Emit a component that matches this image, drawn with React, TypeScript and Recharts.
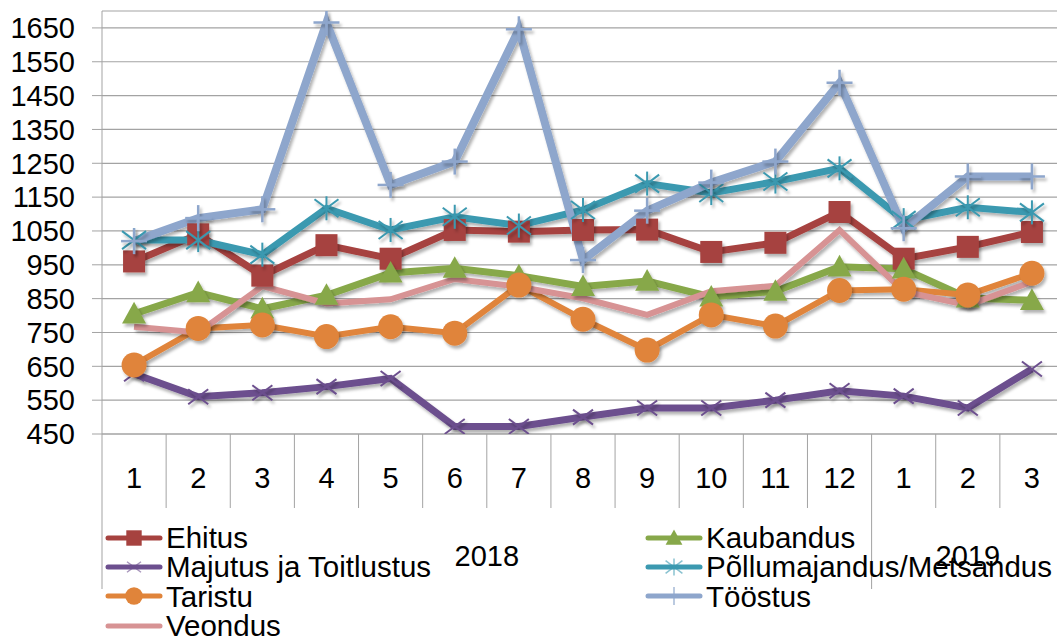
import React from "react";
import {
  LineChart,
  Line,
  XAxis,
  YAxis,
  CartesianGrid,
  Legend,
} from "recharts";

const FONT = '"Liberation Sans", Arial, sans-serif';
const GRID = "#A3A3A3";
const TICK_FS = 29;
const LEGEND_FS = 29.5;

const months = ["1", "2", "3", "4", "5", "6", "7", "8", "9", "10", "11", "12", "1", "2", "3"];
const years = [
  "2018", "2018", "2018", "2018", "2018", "2018", "2018", "2018", "2018", "2018", "2018", "2018",
  "2019", "2019", "2019",
];

const ehitus = [960, 1040, 918, 1008, 968, 1053, 1048, 1053, 1054, 988, 1015, 1106, 968, 1003, 1047];
const kaubandus = [805, 868, 820, 860, 926, 940, 918, 886, 902, 855, 872, 944, 938, 852, 845];
const majutus = [628, 560, 572, 590, 614, 472, 472, 500, 527, 527, 550, 578, 562, 527, 642];
const pollumajandus = [1023, 1023, 980, 1117, 1053, 1092, 1066, 1112, 1190, 1162, 1196, 1235, 1082, 1120, 1105];
const taristu = [654, 762, 772, 738, 767, 748, 890, 789, 698, 802, 769, 874, 878, 861, 925];
const toostus = [1020, 1088, 1114, 1666, 1186, 1255, 1646, 964, 1110, 1193, 1255, 1488, 1058, 1211, 1211];
const veondus = [767, 750, 887, 836, 848, 908, 885, 851, 802, 872, 888, 1053, 871, 831, 900];

const yTicks = [450, 550, 650, 750, 850, 950, 1050, 1150, 1250, 1350, 1450, 1550, 1650];

type Shape = "square" | "triangle" | "x" | "star" | "circle" | "plus" | "none";

// legend order (row by row, two columns) = draw order
const SERIES: { key: string; name: string; values: number[]; color: string; shape: Shape; width: number; size: number }[] = [
  { key: "ehitus", name: "Ehitus", values: ehitus, color: "#A6423F", shape: "square", width: 7, size: 22 },
  { key: "kaubandus", name: "Kaubandus", values: kaubandus, color: "#87A84A", shape: "triangle", width: 7, size: 24 },
  { key: "majutus", name: "Majutus ja Toitlustus", values: majutus, color: "#6C4F8E", shape: "x", width: 7, size: 20 },
  { key: "pollu", name: "Põllumajandus/Metsandus", values: pollumajandus, color: "#3B99B0", shape: "star", width: 7, size: 24 },
  { key: "taristu", name: "Taristu", values: taristu, color: "#E0843A", shape: "circle", width: 6, size: 25 },
  { key: "toostus", name: "Tööstus", values: toostus, color: "#8EA6CC", shape: "plus", width: 8, size: 26 },
  { key: "veondus", name: "Veondus", values: veondus, color: "#D79394", shape: "none", width: 6, size: 0 },
];

const data = months.map((m, i) => {
  const row: Record<string, string | number> = { key: `${years[i]}-${m}` };
  SERIES.forEach((s) => {
    row[s.key] = s.values[i];
  });
  return row;
});

const CHART_W = 1064;
const CHART_H = 637;
const Y_AXIS_W = 102;
const MARGIN = { top: 11, right: 0, bottom: 0, left: 0 };
const BAND = (CHART_W - Y_AXIS_W - MARGIN.left - MARGIN.right) / months.length;

function Marker({ shape, cx, cy, color, s, sw = 2 }: { shape: Shape; cx: number; cy: number; color: string; s: number; sw?: number }) {
  const h = s / 2;
  switch (shape) {
    case "square":
      return <rect x={cx - h} y={cy - h} width={s} height={s} fill={color} />;
    case "triangle":
      return <path d={`M${cx},${cy - h} L${cx + h},${cy + h * 0.8} L${cx - h},${cy + h * 0.8} Z`} fill={color} />;
    case "circle":
      return <circle cx={cx} cy={cy} r={h} fill={color} />;
    case "x":
      return (
        <g stroke={color} strokeWidth={sw}>
          <line x1={cx - h} y1={cy - h * 0.75} x2={cx + h} y2={cy + h * 0.75} />
          <line x1={cx - h} y1={cy + h * 0.75} x2={cx + h} y2={cy - h * 0.75} />
        </g>
      );
    case "star":
      return (
        <g stroke={color} strokeWidth={sw}>
          <line x1={cx - h} y1={cy - h * 0.75} x2={cx + h} y2={cy + h * 0.75} />
          <line x1={cx - h} y1={cy + h * 0.75} x2={cx + h} y2={cy - h * 0.75} />
          <line x1={cx} y1={cy - h} x2={cx} y2={cy + h} />
        </g>
      );
    case "plus":
      return (
        <g stroke={color} strokeWidth={sw + 0.5}>
          <line x1={cx - h} y1={cy} x2={cx + h} y2={cy} />
          <line x1={cx} y1={cy - h} x2={cx} y2={cy + h} />
        </g>
      );
    default:
      return null;
  }
}

const MonthTick = (props: any) => {
  const { x, y, index } = props;
  const i = index;
  const startsYear = i === 0 || years[i] !== years[i - 1];
  const left = x - BAND / 2;
  let yearLabel = null;
  if (startsYear) {
    const count = years.filter((v) => v === years[i]).length;
    yearLabel = (
      <text x={left + (count * BAND) / 2} y={y + 122} textAnchor="middle" dominantBaseline="central" fontSize={TICK_FS} fontFamily={FONT} fill="#000">
        {years[i]}
      </text>
    );
  }
  return (
    <g>
      <line x1={left} x2={left} y1={y} y2={y + (startsYear ? 155 : 74)} stroke={GRID} strokeWidth={1} />
      <text x={x} y={y + 44} textAnchor="middle" dominantBaseline="central" fontSize={TICK_FS} fontFamily={FONT} fill="#000">
        {months[i]}
      </text>
      {yearLabel}
    </g>
  );
};

const renderLegend = () => (
  <div style={{ display: "grid", gridTemplateColumns: "540px 420px", fontFamily: FONT, fontSize: LEGEND_FS, color: "#000" }}>
    {SERIES.map((s) => (
      <div key={s.key} style={{ display: "flex", alignItems: "center", height: 29.3 }}>
        <svg width={56} height={24} style={{ overflow: "visible", flex: "none" }}>
          <line x1={2} x2={54} y1={12} y2={12} stroke={s.color} strokeWidth={5} strokeLinecap="round" />
          <Marker
            shape={s.shape}
            cx={28}
            cy={12}
            color={s.shape === "x" || s.shape === "star" || s.shape === "plus" ? s.color + "99" : s.color}
            s={s.size * 0.7}
            sw={1.5}
          />
        </svg>
        <span style={{ marginLeft: 4, lineHeight: "29px", whiteSpace: "nowrap" }}>{s.name}</span>
      </div>
    ))}
  </div>
);

export default function App() {
  return (
    <div style={{ position: "absolute", left: 0, top: 0, width: 1057, height: 637, overflow: "hidden", background: "#fff" }}>
      <svg width={0} height={0} style={{ position: "absolute" }}>
        <defs>
          <filter id="sh" x="-10%" y="-10%" width="130%" height="130%">
            <feDropShadow dx="2" dy="3" stdDeviation="1.8" floodColor="#000" floodOpacity="0.3" />
          </filter>
        </defs>
      </svg>
      <style>{`.recharts-line-curve, .recharts-line-dots { filter: url(#sh); }`}</style>
      <LineChart width={CHART_W} height={CHART_H} data={data} margin={MARGIN}>
        <CartesianGrid vertical={false} stroke={GRID} strokeWidth={1.2} />
        <XAxis
          dataKey="key"
          scale="band"
          interval={0}
          height={203}
          tickSize={0}
          tickMargin={0}
          tickLine={false}
          axisLine={{ stroke: GRID }}
          tick={<MonthTick />}
        />
        <YAxis
          domain={[450, 1700]}
          ticks={yTicks}
          interval={0}
          width={Y_AXIS_W}
          tickSize={10}
          tickMargin={17}
          axisLine={{ stroke: GRID }}
          tickLine={{ stroke: GRID }}
          tick={{ fill: "#000", fontSize: TICK_FS, fontFamily: FONT }}
          allowDataOverflow
        />
        <Legend
          layout="vertical"
          verticalAlign="middle"
          align="center"
          content={renderLegend}
          wrapperStyle={{ position: "absolute", left: 106, top: 523, width: 960 }}
        />
        {SERIES.map((s) => (
          <Line
            key={s.key}
            dataKey={s.key}
            name={s.name}
            type="linear"
            stroke={s.color}
            strokeWidth={s.width}
            strokeLinejoin="miter"
            isAnimationActive={false}
            activeDot={false}
            dot={(p: any) => (
              <Marker key={`${s.key}-${p.index}`} shape={s.shape} cx={p.cx} cy={p.cy} color={s.color} s={s.size} />
            )}
          />
        ))}
      </LineChart>
    </div>
  );
}
